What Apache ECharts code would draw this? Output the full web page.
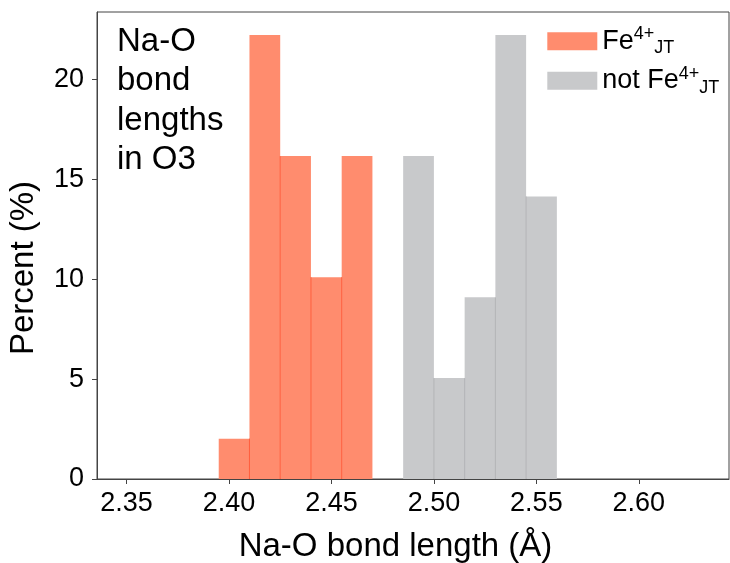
<!DOCTYPE html>
<html>
<head>
<meta charset="utf-8">
<script src="https://cdn.jsdelivr.net/npm/echarts@6/dist/echarts.min.js"></script>
<style>html,body{margin:0;padding:0;background:#fff}#c{width:730px;height:563px}</style>
</head>
<body>
<div id="c"></div>
<script>
const binWidth = 0.015;
const feBinStarts = [2.395, 2.410, 2.425, 2.440, 2.455];
const fePercent = [2.02, 22.22, 16.16, 10.10, 16.16];
const notFeBinStarts = [2.485, 2.500, 2.515, 2.530, 2.545];
const notFePercent = [16.16, 5.05, 9.09, 22.22, 14.14];
const xTicks = [2.35, 2.40, 2.45, 2.50, 2.55, 2.60];
const yTicks = [0, 5, 10, 15, 20];
const seriesNames = ['Fe4+JT', 'not Fe4+JT'];

const FONT = "'Liberation Sans', Arial, Helvetica, sans-serif";

function toData(starts, vals) {
  return starts.map((s, i) => [s, s + binWidth, vals[i], i > 0 ? vals[i - 1] : 0]);
}

function makeRender(fill, edge) {
  return function (params, api) {
    const x0 = api.value(0), x1 = api.value(1), v = api.value(2), pv = api.value(3);
    const p0 = api.coord([x0, v]);
    const p1 = api.coord([x1, 0]);
    const children = [{
      type: 'rect',
      shape: { x: p0[0], y: p0[1], width: p1[0] - p0[0], height: p1[1] - p0[1] },
      style: { fill: fill }
    }];
    if (params.dataIndex > 0) {
      const top = api.coord([x0, Math.min(v, pv)]);
      children.push({
        type: 'line',
        shape: { x1: p0[0], y1: top[1], x2: p0[0], y2: p1[1] },
        style: { stroke: edge, lineWidth: 1 }
      });
    }
    return { type: 'group', children: children };
  };
}

const chart = echarts.init(document.getElementById('c'), null, { renderer: 'canvas' });
const richLegend = {
  n: { fontSize: 27, lineHeight: 32, fontFamily: FONT, color: '#000' },
  sup: { fontSize: 18, lineHeight: 28.4, verticalAlign: 'top', fontFamily: FONT, color: '#000' },
  sub: { fontSize: 18, lineHeight: 12.6, verticalAlign: 'bottom', fontFamily: FONT, color: '#000' }
};
chart.setOption({
  animation: false,
  backgroundColor: '#fff',
  textStyle: { fontFamily: FONT },
  grid: { left: 97, top: 12, right: 1, bottom: 84, show: true, borderColor: '#444', borderWidth: 1, containLabel: false },
  legend: {
    orient: 'vertical', left: 542.3, top: 20.3, itemWidth: 50, itemHeight: 18, itemGap: 7.4,
    icon: 'rect', itemStyle: { borderWidth: 0 },
    data: seriesNames,
    formatter: function (name) {
      return name === seriesNames[0] ? '{n|Fe}{sup|4+}{sub|JT}' : '{n|not Fe}{sup|4+}{sub|JT}';
    },
    textStyle: { rich: richLegend, fontSize: 27, color: '#000' }
  },
  xAxis: {
    type: 'value', min: 2.3356, max: 2.6440,
    axisLine: { show: true, lineStyle: { color: '#444', width: 1 } },
    axisTick: { show: true, length: 5, inside: false, customValues: xTicks, lineStyle: { color: '#444' } },
    axisLabel: { customValues: xTicks, formatter: v => v.toFixed(2), fontSize: 27, color: '#000', margin: 11, fontFamily: FONT },
    splitLine: { show: false }
  },
  yAxis: {
    type: 'value', min: 0, max: 23.37,
    axisLine: { show: true, lineStyle: { color: '#444', width: 1 } },
    axisTick: { show: true, length: 5, customValues: yTicks, lineStyle: { color: '#444' } },
    axisLabel: { customValues: yTicks, fontSize: 27, color: '#000', margin: 13, fontFamily: FONT },
    splitLine: { show: false }
  },
  series: [
    {
      name: seriesNames[0], type: 'custom', itemStyle: { color: '#FF8C6E' },
      encode: { x: [0, 1], y: 2 },
      renderItem: makeRender('#FF8C6E', '#FF5E3C'),
      data: toData(feBinStarts, fePercent)
    },
    {
      name: seriesNames[1], type: 'custom', itemStyle: { color: '#C8C9CB' },
      encode: { x: [0, 1], y: 2 },
      renderItem: makeRender('#C8C9CB', '#B2B3B5'),
      data: toData(notFeBinStarts, notFePercent)
    }
  ],
  graphic: [
    {
      type: 'text', left: 117, top: 22, z: 10,
      style: { text: 'Na-O\nbond\nlengths\nin O3', fontSize: 33, lineHeight: 39.5, fontFamily: FONT, fill: '#000' }
    },
    {
      type: 'text', x: 395.5, y: 546.5, z: 10,
      style: { text: 'Na-O bond length (Å)', fontSize: 33, fontFamily: FONT, fill: '#000', align: 'center', verticalAlign: 'middle' }
    },
    {
      type: 'text', x: 24, y: 268, rotation: Math.PI / 2, z: 10,
      style: { text: 'Percent (%)', fontSize: 33, fontFamily: FONT, fill: '#000', align: 'center', verticalAlign: 'middle' }
    }
  ]
});
</script>
</body>
</html>
